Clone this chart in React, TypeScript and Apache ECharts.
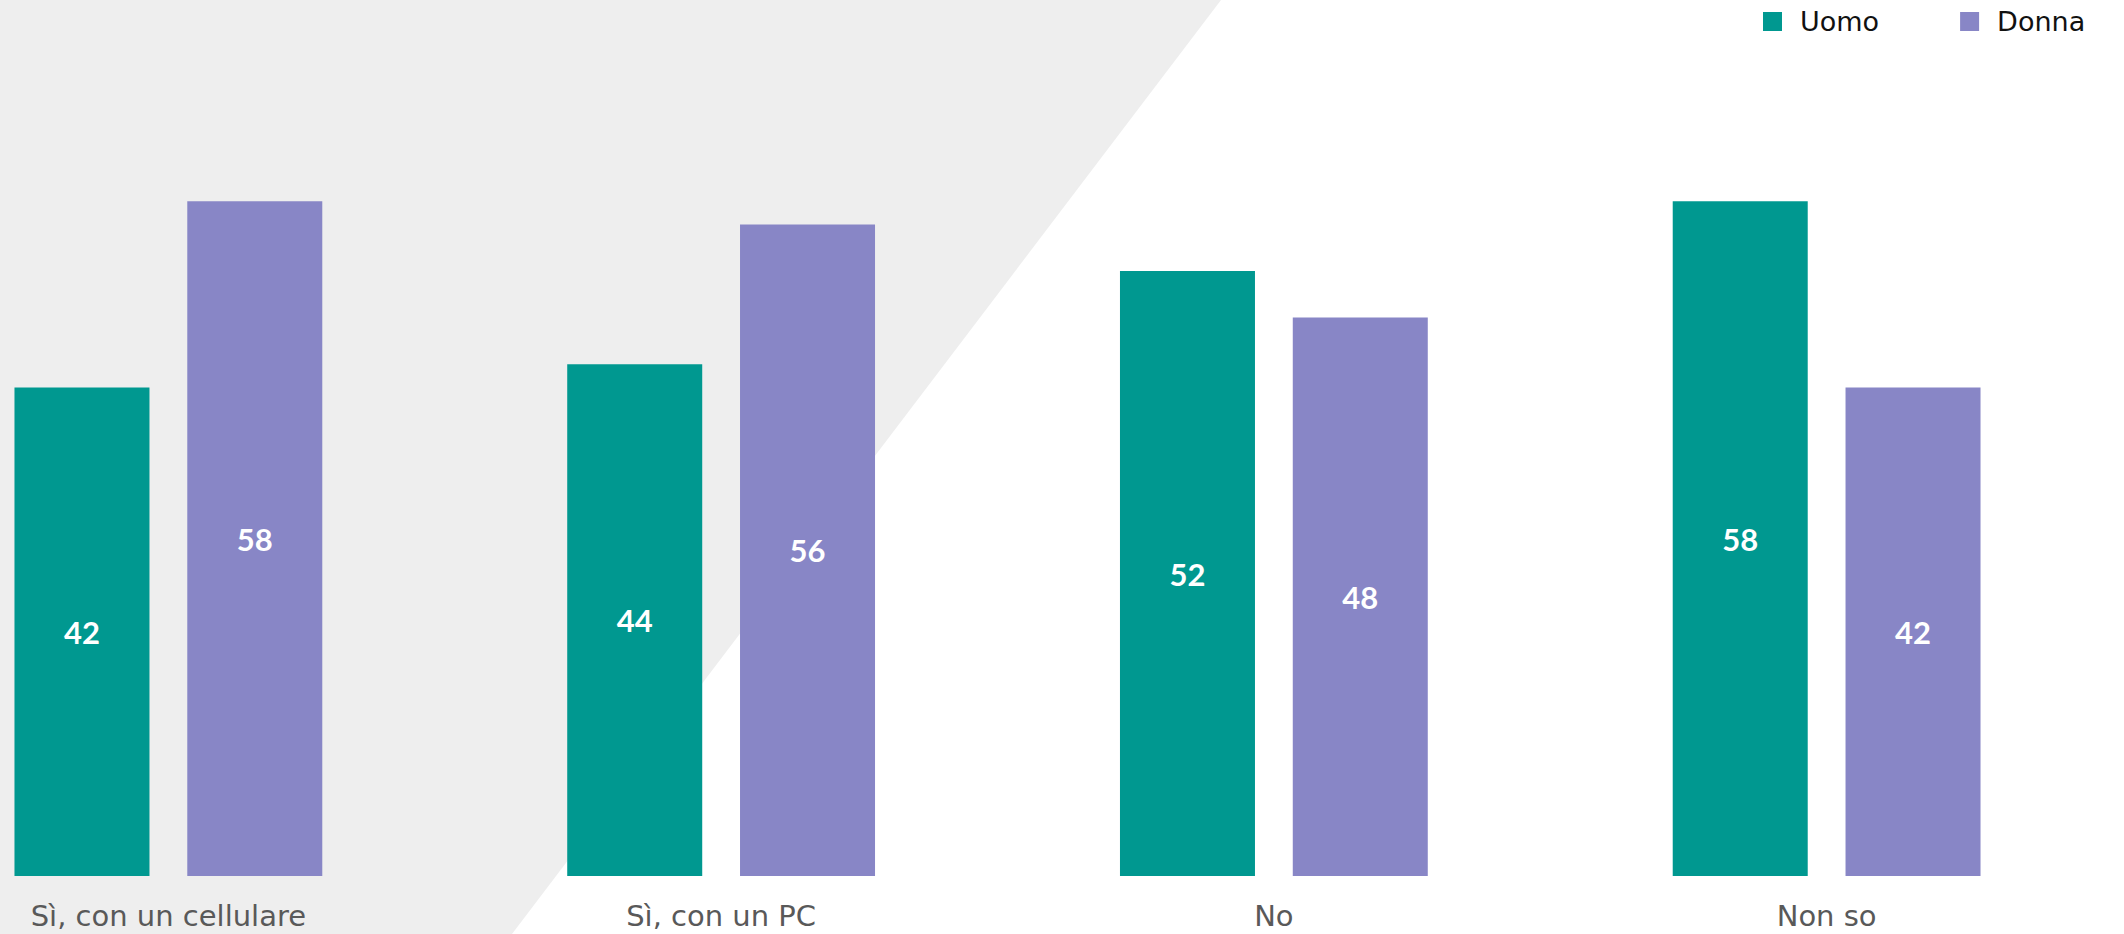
import React, { useEffect, useRef } from "react";
import * as echarts from "echarts";

const categories = ["Sì, con un cellulare", "Sì, con un PC", "No", "Non so"];
const uomo = [42, 44, 52, 58];
const donna = [58, 56, 48, 42];
const seriesNames = ["Uomo", "Donna"];
const colors = ["#009890", "#8886C6"];

const SHIFT = 108;

export default function App() {
  const ref = useRef<HTMLDivElement>(null);
  useEffect(() => {
    if (!ref.current) return;
    const chart = echarts.init(ref.current, null, { renderer: "svg" });
    const font = "'DejaVu Sans', sans-serif";
    const labelFont = "Lato, sans-serif";
    chart.setOption({
      animation: false,
      backgroundColor: "#ffffff",
      graphic: {
        elements: [
          {
            type: "polygon",
            z: -10,
            silent: true,
            shape: {
              points: [
                [0, 0],
                [1221 + SHIFT, 0],
                [512 + SHIFT, 934],
                [0, 934],
              ],
            },
            style: { fill: "#EEEEEE" },
          },
        ],
      },
      legend: {
        left: 1758 + SHIFT,
        top: 3,
        itemWidth: 19,
        itemHeight: 19,
        itemGap: 81,
        icon: "rect",
        data: seriesNames,
        textStyle: {
          fontFamily: font,
          fontSize: 27,
          color: "#111111",
          padding: [0, 0, 0, 13],
        },
      },
      grid: { left: 0, right: 21, top: 178, bottom: 58, containLabel: false },
      xAxis: {
        type: "category",
        data: categories,
        axisLine: { show: false },
        axisTick: { show: false },
        axisLabel: {
          margin: 25,
          fontFamily: font,
          fontSize: 29,
          color: "#595959",
        },
      },
      yAxis: {
        type: "value",
        min: 0,
        max: 60,
        show: false,
        splitLine: { show: false },
      },
      series: [
        {
          name: seriesNames[0],
          type: "bar",
          data: uomo,
          barWidth: 135,
          barGap: "28%",
          itemStyle: { color: colors[0] },
          label: {
            show: true,
            position: "inside",
            color: "#ffffff",
            fontFamily: labelFont,
            fontWeight: "bold",
            fontSize: 31,
          },
        },
        {
          name: seriesNames[1],
          type: "bar",
          data: donna,
          barWidth: 135,
          barGap: "28%",
          itemStyle: { color: colors[1] },
          label: {
            show: true,
            position: "inside",
            color: "#ffffff",
            fontFamily: labelFont,
            fontWeight: "bold",
            fontSize: 31,
          },
        },
      ],
    });
    return () => chart.dispose();
  }, []);
  return (
    <div
      ref={ref}
      style={{
        position: "absolute",
        left: -SHIFT,
        top: 0,
        width: 2124 + SHIFT,
        height: 934,
      }}
    />
  );
}
